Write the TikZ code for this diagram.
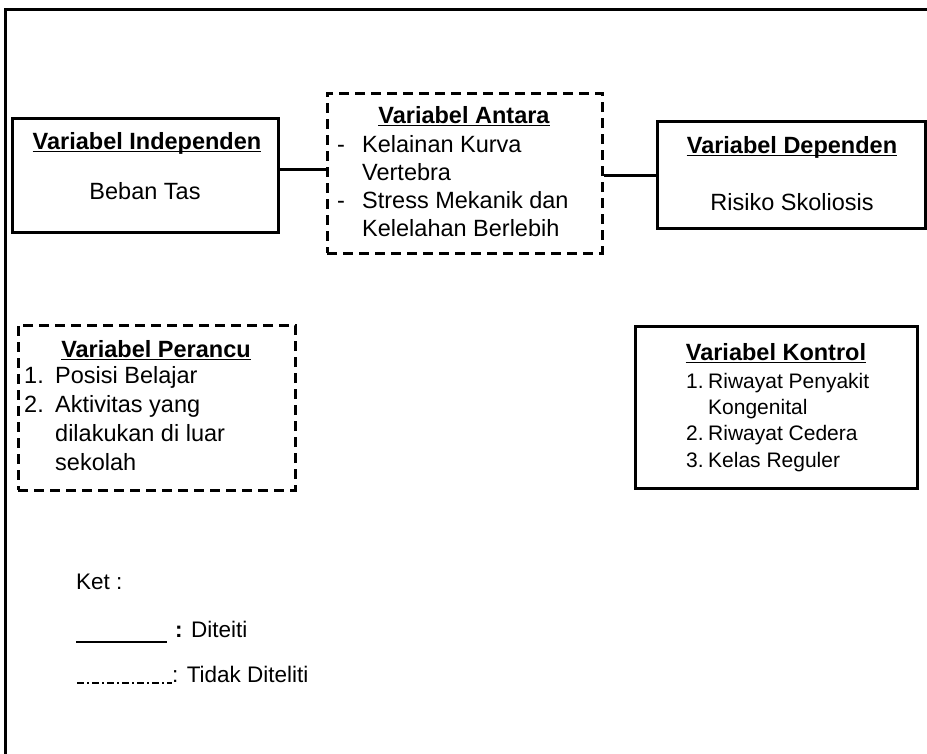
\documentclass[tikz,border=0pt]{standalone}
\usepackage{fontspec}
\setmainfont{Liberation Sans}
\begin{document}
\begin{tikzpicture}[x=1pt,y=-1pt,
  frame/.style={line width=3pt},
  box/.style={draw, line width=3pt, inner sep=0pt},
  dbox/.style={box, dash pattern=on 10pt off 6pt},
  conn/.style={line width=3pt},
  ttl/.style={font=\bfseries\fontsize{23.5}{28}\selectfont, anchor=base, inner sep=0pt},
  txt/.style={font=\fontsize{23.5}{28}\selectfont, anchor=base west, inner sep=0pt},
  ctxt/.style={txt, anchor=base},
  stxt/.style={font=\fontsize{21}{26}\selectfont, anchor=base west, inner sep=0pt},
  ltxt/.style={font=\fontsize{22.5}{27}\selectfont, anchor=base west, inner sep=0pt},
  ul/.style={line width=1.6pt},
]
\useasboundingbox (0,0) rectangle (927,753);
% outer frame
\coordinate (fbl) at (5,760);
\coordinate (ftl) at (5,9);
\coordinate (ftr) at (935,9);
\draw[frame] (fbl) -- (ftl) -- (ftr);

% boxes
\node[box, minimum width=266pt, minimum height=114pt] (indep) at (145,175) {};
\node[dbox, minimum width=275pt, minimum height=160pt] (antara) at (464.5,173) {};
\node[box, minimum width=268pt, minimum height=107pt] (depend) at (791,174.5) {};
\node[dbox, minimum width=277pt, minimum height=165pt] (perancu) at (156.5,407.5) {};
\node[box, minimum width=282pt, minimum height=162pt] (kontrol) at (776,407) {};

% connectors
\draw[conn] (indep.east |- 0,169) -- (antara.west |- 0,169);
\draw[conn] (antara.east |- 0,175) -- (depend.west |- 0,175);

% independen
\node[ttl] (t1) at (147,149) {Variabel Independen};
\draw[ul] ([yshift=-2.5pt]t1.base west) -- ([yshift=-2.5pt]t1.base east);
\node[ctxt] (i1) at (145,199) {Beban Tas};

% antara
\node[ttl] (t2) at (464,123) {Variabel Antara};
\draw[ul] ([yshift=-2.5pt]t2.base west) -- ([yshift=-2.5pt]t2.base east);
\node[txt] (a0) at (337,152.5) {-};
\node[txt] (a1) at (362,152.5) {Kelainan Kurva};
\node[txt] (a2) at (362,180.5) {Vertebra};
\node[txt] (b0) at (337,208.5) {-};
\node[txt] (a3) at (362,208.5) {Stress Mekanik dan};
\node[txt] (a4) at (362,236.5) {Kelelahan Berlebih};

% dependen
\node[ttl] (t3) at (792,153) {Variabel Dependen};
\draw[ul] ([yshift=-2.5pt]t3.base west) -- ([yshift=-2.5pt]t3.base east);
\node[ctxt] (d1) at (792,210) {Risiko Skoliosis};

% perancu
\node[ttl] (t4) at (156,357) {Variabel Perancu};
\draw[ul] ([yshift=-2.5pt]t4.base west) -- ([yshift=-2.5pt]t4.base east);
\node[txt] (p1n) at (24,383) {1.};
\node[txt] (p1) at (55,383) {Posisi Belajar};
\node[txt] (p2n) at (24,412) {2.};
\node[txt] (p2) at (55,412) {Aktivitas yang};
\node[txt] (p3) at (55,441) {dilakukan di luar};
\node[txt] (p4) at (55,470) {sekolah};

% kontrol
\node[ttl] (t5) at (776,360) {Variabel Kontrol};
\draw[ul] ([yshift=-2.5pt]t5.base west) -- ([yshift=-2.5pt]t5.base east);
\node[stxt] (k1n) at (686,388) {1.};
\node[stxt] (k1) at (708,388) {Riwayat Penyakit};
\node[stxt] (k2) at (708,414.5) {Kongenital};
\node[stxt] (k3n) at (686,440.5) {2.};
\node[stxt] (k3) at (708,440.5) {Riwayat Cedera};
\node[stxt] (k4n) at (686,467) {3.};
\node[stxt] (k4) at (708,467) {Kelas Reguler};

% legend
\node[ltxt] (ket) at (76,589) {Ket :};
\coordinate (l1a) at (76,642);
\coordinate (l1b) at (167,642);
\draw[line width=1.6pt] (l1a) -- (l1b);
\node[ltxt] (l1t) at (175,637) {\textbf{:} Diteiti};
\coordinate (l2a) at (77,683);
\coordinate (l2b) at (172,683);
\draw[line width=1.5pt, dash pattern=on 7pt off 3pt on 2pt off 3pt] (l2a) -- (l2b);
\node[ltxt] (l2t) at (172,682) {: Tidak Diteliti};
\end{tikzpicture}
\end{document}
